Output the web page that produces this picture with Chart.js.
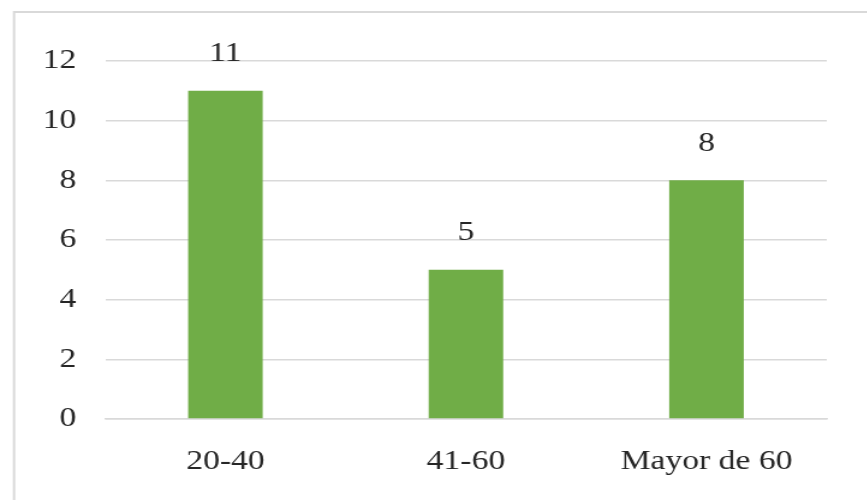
<!DOCTYPE html>
<html>
<head>
<meta charset="utf-8">
<script src="https://cdn.jsdelivr.net/npm/chart.js@4.4.1/dist/chart.umd.min.js"></script>
<style>
  html, body { margin: 0; padding: 0; background: #ffffff; overflow: hidden; }
  #wrap {
    width: 722.5px; height: 500px;
    transform: scaleX(1.2); transform-origin: left top;
  }
  .precarga { font-family: "Liberation Serif"; position: absolute; left: -1000px; }
</style>
</head>
<body>
<span class="precarga">0123456789 Mayor de</span>
<div id="wrap"><canvas id="chart"></canvas></div>
<script>
// Datos
const categorias = ["20-40", "41-60", "Mayor de 60"];
const valores = [11, 5, 8];
const ticksY = [0, 2, 4, 6, 8, 10, 12];

const textColor = "#262626";
const fontFamily = "'Liberation Serif', 'Times New Roman', serif";

// Marco gris (solo arriba e izquierda, como en la imagen recortada)
const marco = {
  id: "marco",
  beforeDraw(chart) {
    const ctx = chart.ctx;
    ctx.save();
    ctx.strokeStyle = "#d9d9d9";
    ctx.lineWidth = 2;
    ctx.beginPath();
    ctx.moveTo(11.7, chart.height + 5);
    ctx.lineTo(11.7, 12);
    ctx.lineTo(chart.width + 5, 12);
    ctx.stroke();
    ctx.restore();
  }
};

// Etiquetas de valor encima de cada barra
const etiquetas = {
  id: "etiquetas",
  afterDatasetsDraw(chart) {
    const ctx = chart.ctx;
    const meta = chart.getDatasetMeta(0);
    ctx.save();
    ctx.fillStyle = textColor;
    ctx.font = "28px " + fontFamily;
    ctx.textAlign = "center";
    ctx.textBaseline = "middle";
    meta.data.forEach((bar, i) => {
      ctx.fillText(String(valores[i]), bar.x, bar.y - 37);
    });
    ctx.restore();
  }
};

function dibujar() {
  new Chart(document.getElementById("chart"), {
    type: "bar",
    data: {
      labels: categorias,
      datasets: [{
        data: valores,
        backgroundColor: "#70ad47",
        categoryPercentage: 1,
        barPercentage: 0.31
      }]
    },
    options: {
      responsive: true,
      maintainAspectRatio: false,
      animation: false,
      layout: { padding: { top: 61, right: 34.5, left: 0, bottom: 0 } },
      plugins: { legend: { display: false }, tooltip: { enabled: false } },
      scales: {
        x: {
          grid: { display: false, drawTicks: false },
          border: { display: true, color: "#d9d9d9", width: 1.5 },
          ticks: { color: textColor, font: { family: fontFamily, size: 28 }, padding: 26, maxRotation: 0 },
          afterFit(scale) { scale.height = 81; }
        },
        y: {
          min: 0, max: 12,
          afterBuildTicks(scale) { scale.ticks = ticksY.map(v => ({ value: v })); },
          grid: { color: "#d9d9d9", lineWidth: 1.5, drawTicks: false },
          border: { display: false },
          ticks: { color: textColor, font: { family: fontFamily, size: 28 }, padding: 24 },
          afterFit(scale) { scale.width = 87.5; }
        }
      }
    },
    plugins: [marco, etiquetas]
  });
}

document.fonts.load("28px 'Liberation Serif'").then(dibujar, dibujar);
</script>
</body>
</html>
